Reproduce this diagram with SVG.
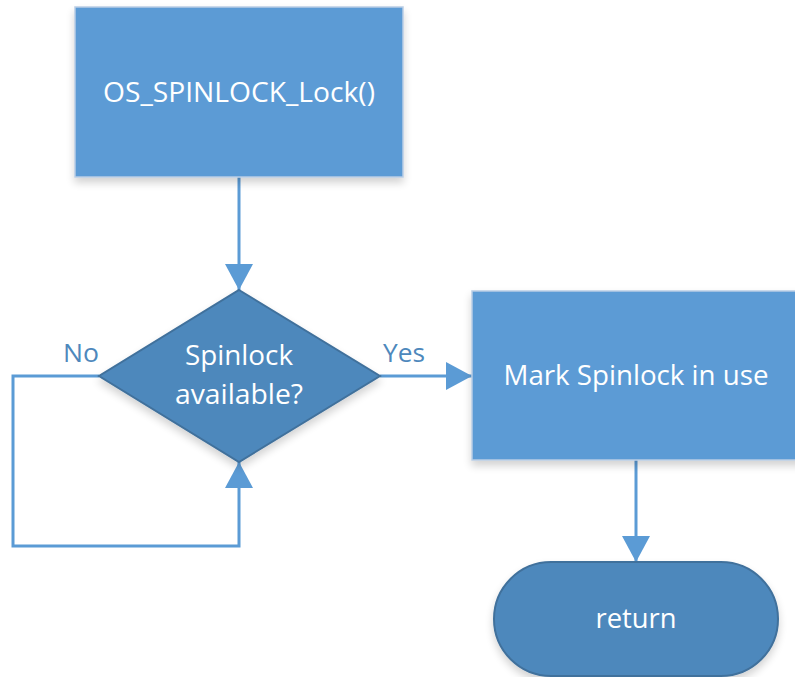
<svg xmlns="http://www.w3.org/2000/svg" width="795" height="677" viewBox="0 0 795 677">
<style>
.box{fill:#5B9BD5;stroke:#B9CDE5;stroke-width:1.5}
.dark{fill:#4E88BC;stroke:#41719C;stroke-width:2}
.t{font-family:"Open Sans","Liberation Sans",sans-serif;font-size:28px;fill:#FFFFFF;text-anchor:middle}
.lbl{font-family:"Open Sans","Liberation Sans",sans-serif;font-size:25px;fill:#4E88BC}
.c{fill:none;stroke:#5B9BD5;stroke-width:3}
</style>
<defs>
<filter id="sh" x="-10%" y="-10%" width="120%" height="130%">
<feGaussianBlur in="SourceAlpha" stdDeviation="4"/>
<feOffset dx="0" dy="5" result="b"/>
<feComponentTransfer><feFuncA type="linear" slope="0.18"/></feComponentTransfer>
<feMerge><feMergeNode/><feMergeNode in="SourceGraphic"/></feMerge>
</filter>
<marker id="ah" markerUnits="userSpaceOnUse" markerWidth="28" markerHeight="28" refX="26" refY="14" orient="auto">
<path d="M0,0 L26,14 L0,28 Z" fill="#5B9BD5"/>
</marker>
</defs>
<g id="connectors">
<line class="c" x1="239" y1="177" x2="239" y2="290" marker-end="url(#ah)"/>
<line class="c" x1="380" y1="376" x2="472" y2="376" marker-end="url(#ah)"/>
<polyline class="c" points="99,376 13,376 13,546 239,546 239,462" marker-end="url(#ah)"/>
<line class="c" x1="636" y1="460" x2="636" y2="562" marker-end="url(#ah)"/>
<text class="lbl" x="81" y="362" text-anchor="middle" textLength="36" lengthAdjust="spacingAndGlyphs">No</text>
<text class="lbl" x="404" y="362" text-anchor="middle" textLength="42" lengthAdjust="spacingAndGlyphs">Yes</text>
</g>
<g id="start">
<rect class="box" x="75" y="7" width="328" height="170" filter="url(#sh)"/>
<text class="t" x="239" y="102" textLength="272" lengthAdjust="spacingAndGlyphs">OS_SPINLOCK_Lock()</text>
</g>
<g id="decision">
<polygon class="dark" points="239,290 380,376 239,462 99,376" filter="url(#sh)"/>
<text class="t" x="239" y="365" textLength="108" lengthAdjust="spacingAndGlyphs">Spinlock</text>
<text class="t" x="239" y="404" textLength="128" lengthAdjust="spacingAndGlyphs">available?</text>
</g>
<g id="mark">
<rect class="box" x="472" y="291" width="340" height="169" filter="url(#sh)"/>
<text class="t" x="636" y="385" textLength="265" lengthAdjust="spacingAndGlyphs">Mark Spinlock in use</text>
</g>
<g id="return">
<rect class="dark" x="494" y="562" width="284" height="114" rx="57" ry="57" filter="url(#sh)"/>
<text class="t" x="636" y="628" textLength="81" lengthAdjust="spacingAndGlyphs">return</text>
</g>
</svg>
